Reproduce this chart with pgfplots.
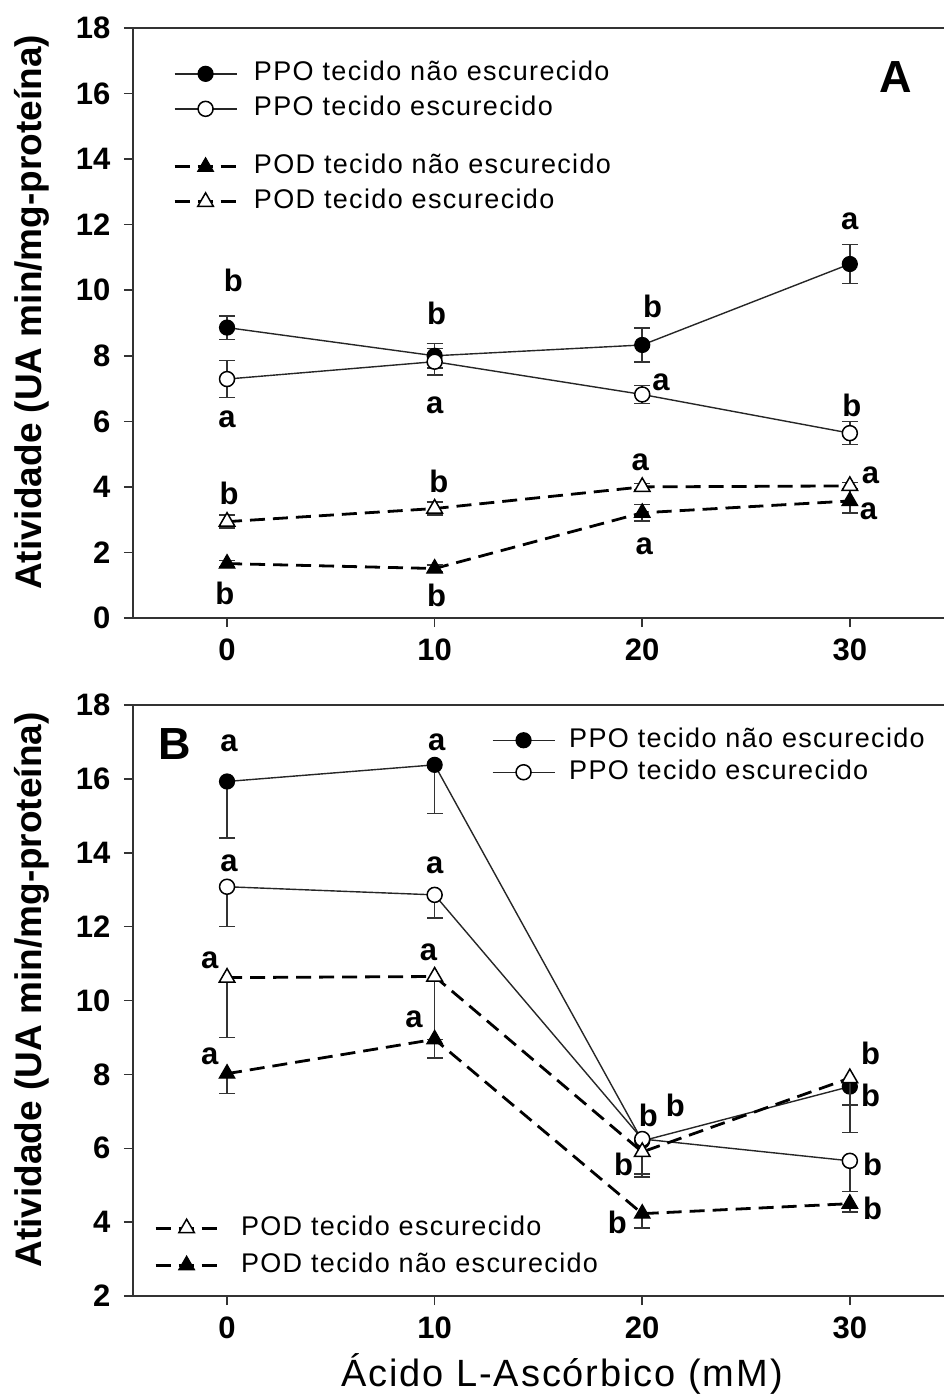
\documentclass[border=0pt]{standalone}
\usepackage{fontspec}
\setmainfont{Liberation Sans}
\newfontfamily\legfont[LetterSpace=5]{Liberation Sans}
\newfontfamily\labfont[LetterSpace=5]{Liberation Sans}
\usepackage{pgfplots}
\pgfplotsset{compat=1.18}

\pgfplotsset{
  panel/.style={
    scale only axis, width=858pt,
    xmin=-4.53, xmax=36.8,
    xtick={0,10,20,30},
    tick pos=left, tick align=outside, major tick length=9pt,
    axis line style={line width=1.6pt, black!80},
    tick style={line width=1.5pt, black!80},
    ticklabel style={font=\fontsize{31}{36}\selectfont\bfseries},
    yticklabel style={xshift=-10pt},
    xticklabel style={yshift=-8pt},
    /pgf/number format/assume math mode=true,
    every axis y label/.style={at={(rel axis cs:0,0.518)}, xshift=-101pt, rotate=90, anchor=center},
    ylabel style={font=\fontsize{37}{44}\selectfont\bfseries},
    legend cell align=left,
    legend image code/.code={\draw[mark repeat=2, mark phase=2, ##1] plot coordinates {(0pt,0pt) (31pt,0pt) (62pt,0pt)};},
  },
  ppof/.style={black!85, line width=1.4pt, mark=*, mark size=7.5pt,
    mark options={solid, fill=black, draw=black, line width=1.2pt}},
  ppoo/.style={black!85, line width=1.4pt, mark=*, mark size=7.5pt,
    mark options={solid, fill=white, draw=black, line width=1.5pt}},
  podf/.style={black, line width=2.8pt, dash pattern=on 15pt off 8pt, mark=triangle*, mark size=9pt,
    mark options={solid, fill=black, draw=black, line width=1.2pt}},
  podo/.style={black, line width=2.8pt, dash pattern=on 15pt off 8pt, mark=triangle*, mark size=9pt,
    mark options={solid, fill=white, draw=black, line width=1.5pt}},
  eb/.style={error bars/.cd, y dir=#1, y explicit,
    error bar style={solid, line width=1.5pt, black!80},
    error mark options={rotate=90, mark size=8pt, line width=1.5pt, black!80}},
}
\tikzset{lg/.style={font=\fontsize{31}{36}\selectfont\bfseries, inner sep=0pt}}

\begin{document}
\begin{tikzpicture}
% ---------- panel A ----------
\begin{axis}[panel, name=A, at={(0,0)}, anchor=north west,
  height=590pt, ymin=0, ymax=18, ytick={0,2,...,18},
  ylabel={Atividade (UA min/mg-proteína)},
  legend style={at={(rel axis cs:0.0466,0.943)}, anchor=north west,
    draw=none, fill=none, inner sep=0pt, row sep=11pt, column sep=16pt,
    nodes={inner sep=0pt, text height=19pt, text depth=5pt,
      font=\legfont\fontsize{27}{32}\selectfont}},
]
\addplot[ppof, eb=both] coordinates {
  (0,8.86) +- (0,0.36)
  (10,8.00) +- (0,0.38)
  (20,8.33) +- (0,0.52)
  (30,10.80) +- (0,0.60)
};
\addlegendentry{PPO tecido não escurecido}
\addplot[ppoo, eb=both] coordinates {
  (0,7.29) +- (0,0.57)
  (10,7.82) +- (0,0.40)
  (20,6.82) +- (0,0.27)
  (30,5.64) +- (0,0.35)
};
\addlegendentry{PPO tecido escurecido}
\addlegendimage{empty legend}
\addlegendentry[text height=12pt, text depth=0pt]{}
\addplot[podf, eb=both] coordinates {
  (0,1.66) +- (0,0.10)
  (10,1.51) +- (0,0.10)
  (20,3.21) +- (0,0.25)
  (30,3.57) +- (0,0.36)
};
\addlegendentry{POD tecido não escurecido}
\addplot[podo, eb=both] coordinates {
  (0,2.94) +- (0,0.20)
  (10,3.34) +- (0,0.20)
  (20,4.00) +- (0,0.10)
  (30,4.03) +- (0,0.10)
};
\addlegendentry{POD tecido escurecido}
% letters
\node[lg] at (axis cs:0.3,10.3) {b};
\node[lg] at (axis cs:0,6.06) {a};
\node[lg] at (axis cs:0.1,3.8) {b};
\node[lg] at (axis cs:-0.1,0.76) {b};
\node[lg] at (axis cs:10.1,9.3) {b};
\node[lg] at (axis cs:10,6.5) {a};
\node[lg] at (axis cs:10.2,4.16) {b};
\node[lg] at (axis cs:10.1,0.69) {b};
\node[lg] at (axis cs:20.5,9.5) {b};
\node[lg] at (axis cs:20.9,7.2) {a};
\node[lg] at (axis cs:19.9,4.76) {a};
\node[lg] at (axis cs:20.1,2.2) {a};
\node[lg] at (axis cs:30,12.1) {a};
\node[lg] at (axis cs:30.1,6.5) {b};
\node[lg] at (axis cs:31.0,4.36) {a};
\node[lg] at (axis cs:30.9,3.24) {a};
\node[font=\fontsize{45}{50}\selectfont\bfseries] at (axis cs:32.2,16.5) {A};
\end{axis}

% ---------- panel B (PPO) ----------
\begin{axis}[panel, name=B, at={(0,-677pt)}, anchor=north west,
  height=591pt, ymin=2, ymax=18, ytick={2,4,...,18},
  ylabel={Atividade (UA min/mg-proteína)},
  xlabel={Ácido L-Ascórbico (mM)},
  every axis x label/.style={at={(rel axis cs:0.5,0)}, yshift=-78pt, anchor=center},
  xlabel style={font=\labfont\fontsize{38}{43}\selectfont},
  legend style={at={(rel axis cs:0.418,0.961)}, anchor=north west,
    draw=none, fill=none, inner sep=0pt, row sep=8pt, column sep=14pt,
    nodes={inner sep=0pt, text height=19pt, text depth=5pt,
      font=\legfont\fontsize{27}{32}\selectfont}},
]
\addplot[ppof, eb=minus] coordinates {
  (0,15.93) -= (0,1.53)
  (10,16.38) -= (0,1.32)
  (20,6.20) -= (0,0.90)
  (30,7.67) -= (0,1.24)
};
\addlegendentry{PPO tecido não escurecido}
\addplot[ppoo, eb=minus] coordinates {
  (0,13.08) -= (0,1.08)
  (10,12.86) -= (0,0.62)
  (20,6.25) -= (0,1.03)
  (30,5.66) -= (0,0.83)
};
\addlegendentry{PPO tecido escurecido}
\node[lg] at (axis cs:0.1,16.95) {a};
\node[lg] at (axis cs:10.1,17.0) {a};
\node[lg] at (axis cs:0.1,13.72) {a};
\node[lg] at (axis cs:10,13.66) {a};
\node[lg] at (axis cs:-0.83,11.1) {a};
\node[lg] at (axis cs:9.7,11.3) {a};
\node[lg] at (axis cs:9.0,9.5) {a};
\node[lg] at (axis cs:-0.83,8.5) {a};
\node[lg] at (axis cs:20.3,6.9) {b};
\node[lg] at (axis cs:21.6,7.17) {b};
\node[lg] at (axis cs:19.1,5.56) {b};
\node[lg] at (axis cs:18.8,4.0) {b};
\node[lg] at (axis cs:31.0,8.58) {b};
\node[lg] at (axis cs:31.0,7.42) {b};
\node[lg] at (axis cs:31.1,5.56) {b};
\node[lg] at (axis cs:31.1,4.36) {b};
\node[font=\fontsize{45}{50}\selectfont\bfseries] at (axis cs:-2.5,16.95) {B};
\end{axis}

% ---------- panel B (POD, second legend) ----------
\begin{axis}[panel, hide axis, at={(0,-677pt)}, anchor=north west,
  height=591pt, ymin=2, ymax=18,
  legend style={at={(rel axis cs:0.0245,0.1354)}, anchor=north west,
    draw=none, fill=none, inner sep=0pt, row sep=13pt, column sep=22pt,
    nodes={inner sep=0pt, text height=19pt, text depth=5pt,
      font=\legfont\fontsize{27}{32}\selectfont}},
]
\addplot[podo, eb=minus] coordinates {
  (0,10.62) -= (0,1.62)
  (10,10.65) -= (0,1.70)
  (20,5.90) -= (0,0.58)
  (30,7.90) -= (0,0.73)
};
\addlegendentry{POD tecido escurecido}
\addplot[podf, eb=minus] coordinates {
  (0,8.02) -= (0,0.54)
  (10,8.95) -= (0,0.51)
  (20,4.23) -= (0,0.39)
  (30,4.50) -= (0,0.22)
};
\addlegendentry{POD tecido não escurecido}
\end{axis}

\pgfresetboundingbox
\path[use as bounding box] (-133pt,28pt) rectangle (810pt,-1370pt);
\end{tikzpicture}
\end{document}
